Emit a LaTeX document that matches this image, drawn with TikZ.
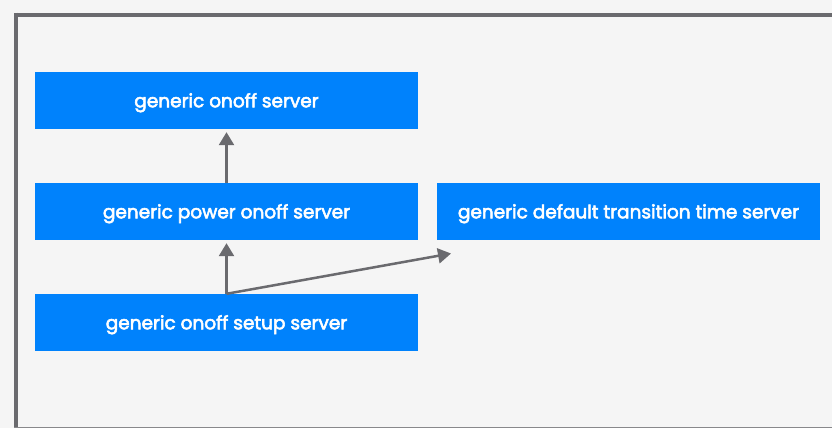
\documentclass[tikz,border=0pt]{standalone}
\usepackage{fontspec}
\setmainfont{Poppins}
\newfontfamily\boxfont{Poppins}[FakeBold=3]
\usetikzlibrary{arrows.meta}
\begin{document}
\begin{tikzpicture}[x=1pt,y=-1pt,
  box/.style={fill=boxblue, draw=none, minimum width=383pt, minimum height=57pt, inner sep=0pt,
    text height=13.6pt, text depth=0pt,
    text=white, font=\boxfont\fontsize{18.5}{22}\selectfont},
  conn/.style={draw=framegray, line width=2.5pt, shorten >=3pt, -{Triangle[length=13pt,width=15pt]}}]
\definecolor{boxblue}{HTML}{0082FC}
\definecolor{framegray}{HTML}{6A6A6E}
\definecolor{bg}{HTML}{F5F5F5}
\useasboundingbox (0,0) rectangle (832,428);
\fill[bg] (0,0) rectangle (832,428);
\draw[framegray, line width=4pt] (15.5,14.7) -- (832,14.7);
\draw[framegray, line width=4pt] (15.5,12.7) -- (15.5,428);
\draw[framegray!80, line width=1.2pt] (14,427.3) -- (832,427.3);
\node[box] (a) at (226.5,100.5) {generic onoff server};
\node[box] (b) at (226.5,211.5) {generic power onoff server};
\node[box] (c) at (226.5,322.5) {generic onoff setup server};
\node[box] (d) at (628.5,211.5) {generic default transition time server};
\coordinate (dt) at (451,253.5);
\draw[conn] (b.north) -- (a.south);
\draw[conn] (c.north) -- (b.south);
\draw[conn, shorten >=0pt] (c.north) -- (dt);
\end{tikzpicture}
\end{document}
